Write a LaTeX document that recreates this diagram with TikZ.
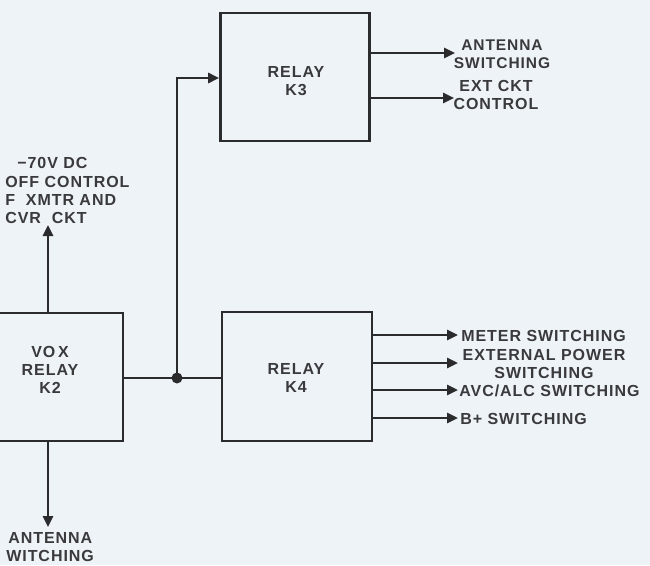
\documentclass[tikz,border=0pt]{standalone}
\usepackage{fontspec}
\setmainfont{Liberation Sans}[LetterSpace=6]
\usetikzlibrary{arrows.meta}
\definecolor{bg}{HTML}{EEF3F8}
\definecolor{ink}{HTML}{2B2B2E}
\definecolor{txt}{HTML}{3A3A3D}
\begin{document}
\begin{tikzpicture}[x=1pt,y=-1pt,
  line width=2.6pt,
  relaybox/.style={draw=ink,line width=2.6pt,minimum width=#1,inner sep=0pt},
  lbl/.style={font=\bfseries\fontsize{16}{18}\selectfont,text=txt,inner sep=0pt},
  conn/.style={draw=ink,line width=2.6pt},
  arr/.style={conn,-{Triangle[length=11pt,width=10pt]}}]
\useasboundingbox (0,0) rectangle (650,565);
\fill[bg] (0,0) rectangle (650,565);
\clip (0,0) rectangle (650,565);
% boxes
\node[relaybox=149pt,minimum height=128pt] (K3) at (295,77) {};
\node[lbl,align=center] (K3t) at (296,81) {RELAY\\K3};
\node[relaybox=150pt,minimum height=129pt] (K4) at (297,376.5) {};
\node[lbl,align=center] (K4t) at (296,378) {RELAY\\K4};
\node[relaybox=150pt,minimum height=128pt] (K2) at (48,377) {};
\node[lbl,align=center] (K2t) at (50,370) {VO\,X\\RELAY\\K2};
% junction
\coordinate (J) at (177,378);
\fill[ink] (J) circle (5.5pt);
\draw[conn] (K2.east |- J) -- (J) -- (K4.west |- J);
\coordinate (Jup) at (177,78);
\draw[arr] (J) -- (Jup) -- (K3.west |- Jup);
% K3 outputs
\coordinate (a1) at (455,53);
\coordinate (a2) at (454,98);
\draw[arr] (K3.east |- a1) -- (a1);
\draw[arr] (K3.east |- a2) -- (a2);
\node[lbl,align=center,font=\bfseries\fontsize{15.5}{18}\selectfont] (t1) at (502,54) {ANTENNA\\SWITCHING};
\node[lbl,align=center] (t2) at (496,95) {EXT CKT\\CONTROL};
% K4 outputs
\coordinate (b1) at (458,335);
\coordinate (b2) at (458,363);
\coordinate (b3) at (458,390);
\coordinate (b4) at (458,418);
\draw[arr] (K4.east |- b1) -- (b1);
\draw[arr] (K4.east |- b2) -- (b2);
\draw[arr] (K4.east |- b3) -- (b3);
\draw[arr] (K4.east |- b4) -- (b4);
\node[lbl,anchor=west] (m1) at (460,336) {METER SWITCHING};
\node[lbl,align=center] (m2) at (544,364) {EXTERNAL POWER\\SWITCHING};
\node[lbl,anchor=west] (m3) at (458,391) {AVC/ALC SWITCHING};
\node[lbl,anchor=west] (m4) at (459,419) {B+ SWITCHING};
% K2 outputs
\coordinate (u1) at (48,225);
\coordinate (d1) at (48,527);
\draw[arr] (K2.north -| u1) -- (u1);
\draw[arr] (K2.south -| d1) -- (d1);
\node[lbl,anchor=west,align=left] (l0) at (16,163) {\textminus70V DC};
\node[lbl,anchor=west,align=left] (l1) at (4,182) {OFF CONTROL};
\node[lbl,anchor=west,align=left] (l2) at (4,200) {F\ \ XMTR AND};
\node[lbl,anchor=west,align=left] (l3) at (4,218) {CVR\ \ CKT};
\node[lbl,anchor=west] (l4) at (7,538) {ANTENNA};
\node[lbl,anchor=west] (l5) at (5,556) {WITCHING};
\end{tikzpicture}
\end{document}
